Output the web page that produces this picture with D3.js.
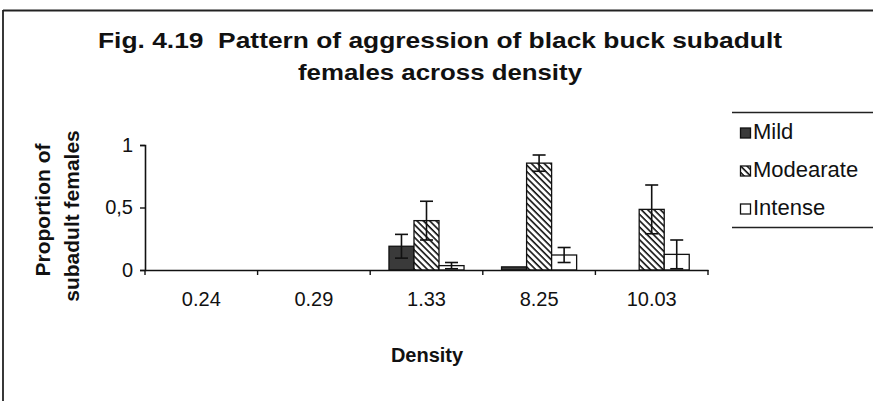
<!DOCTYPE html>
<html>
<head>
<meta charset="utf-8">
<script src="https://cdn.jsdelivr.net/npm/d3@7"></script>
<style>
  html, body { margin: 0; padding: 0; background: #fff; }
  svg { display: block; font-family: Arial, "Liberation Sans", sans-serif; }
  text { white-space: pre; }
</style>
</head>
<body>
<svg id="chart" width="873" height="401"></svg>
<script>
// Density categories and per-series proportions with standard errors
const densities = ["0.24", "0.29", "1.33", "8.25", "10.03"];
const seriesNames = ["Mild", "Modearate", "Intense"];
const mildValues      = [0, 0, 0.19, 0.025, 0];
const moderateValues  = [0, 0, 0.395, 0.855, 0.485];
const intenseValues   = [0, 0, 0.035, 0.12, 0.125];
const mildErrors      = [0, 0, 0.095, 0, 0];
const moderateErrors  = [0, 0, 0.155, 0.065, 0.195];
const intenseErrors   = [0, 0, 0.025, 0.06, 0.115];
const yTicks = [0, 0.5, 1];
const yTickLabels = ["0", "0,5", "1"];

const seriesValues = [mildValues, moderateValues, intenseValues];
const seriesErrors = [mildErrors, moderateErrors, intenseErrors];

const svg = d3.select("#chart");

// pattern for the "Modearate" hatching (down-right diagonals)
const defs = svg.append("defs");
const pat = defs.append("pattern")
  .attr("id", "hatch")
  .attr("patternUnits", "userSpaceOnUse")
  .attr("width", 4.5).attr("height", 4.5)
  .attr("patternTransform", "rotate(45)");
pat.append("rect").attr("width", 4.5).attr("height", 4.5).attr("fill", "#fff");
pat.append("line").attr("x1", 0).attr("y1", 0).attr("x2", 4.5).attr("y2", 0)
  .attr("stroke", "#111").attr("stroke-width", 3.2);

const fills = ["#3a3a3a", "url(#hatch)", "#fff"];

// page frame (top and left edges)
svg.append("line").attr("x1", 3).attr("y1", 10.5).attr("x2", 873).attr("y2", 10.5)
  .attr("stroke", "#222").attr("stroke-width", 1.8);
svg.append("line").attr("x1", 3).attr("y1", 10).attr("x2", 3).attr("y2", 401)
  .attr("stroke", "#222").attr("stroke-width", 1.8);

// title
const title = svg.append("g").attr("font-weight", "bold").attr("font-size", 22)
  .attr("text-anchor", "middle").attr("fill", "#111");
title.append("text").attr("x", 440).attr("y", 48)
  .attr("textLength", 684).attr("lengthAdjust", "spacingAndGlyphs")
  .text("Fig. 4.19  Pattern of aggression of black buck subadult");
title.append("text").attr("x", 440).attr("y", 80)
  .attr("textLength", 284).attr("lengthAdjust", "spacingAndGlyphs")
  .text("females across density");

// scales
const plotLeft = 145, plotRight = 708, plotTop = 145, plotBottom = 270;
const x = d3.scaleBand().domain(densities).range([plotLeft, plotRight]).padding(0);
const groupGap = x.bandwidth() * 0.75 / 4.5;
const xs = d3.scaleBand().domain(seriesNames)
  .range([groupGap, x.bandwidth() - groupGap]).padding(0);
const y = d3.scaleLinear().domain([0, 1]).range([plotBottom, plotTop]);

// bars
const bars = svg.append("g");
seriesNames.forEach((name, si) => {
  const vals = seriesValues[si];
  bars.append("g").selectAll("rect")
    .data(densities.map((d, i) => ({ d, v: vals[i] })).filter(o => o.v > 0))
    .join("rect")
    .attr("x", o => x(o.d) + xs(name))
    .attr("y", o => y(o.v))
    .attr("width", xs.bandwidth())
    .attr("height", o => y(0) - y(o.v))
    .attr("fill", fills[si])
    .attr("stroke", "#111").attr("stroke-width", 1.3);
});

// symmetric error bars with caps
const capHalf = 6.5;
const err = svg.append("g").attr("stroke", "#111").attr("stroke-width", 1.6).attr("fill", "none");
seriesNames.forEach((name, si) => {
  densities.forEach((d, i) => {
    const v = seriesValues[si][i], e = seriesErrors[si][i];
    if (!(v > 0 && e > 0)) return;
    const cx = x(d) + xs(name) + xs.bandwidth() / 2;
    const hi = y(v + e), lo = y(Math.max(0, v - e));
    err.append("line").attr("x1", cx).attr("x2", cx).attr("y1", hi).attr("y2", lo);
    err.append("line").attr("x1", cx - capHalf).attr("x2", cx + capHalf).attr("y1", hi).attr("y2", hi);
    err.append("line").attr("x1", cx - capHalf).attr("x2", cx + capHalf).attr("y1", lo).attr("y2", lo);
  });
});

// y axis
const yAxis = d3.axisLeft(y).tickValues(yTicks).tickSize(5).tickPadding(7)
  .tickFormat((d, i) => yTickLabels[i]);
const gy = svg.append("g").attr("transform", `translate(${plotLeft},0)`).call(yAxis);
gy.select(".domain").attr("stroke", "#111").attr("stroke-width", 1.6);
gy.selectAll(".tick line").attr("stroke", "#111").attr("stroke-width", 1.4);
gy.selectAll(".tick text").attr("font-size", 20).attr("fill", "#111")
  .attr("font-family", "Arial, 'Liberation Sans', sans-serif");

// x axis: labels centred, ticks on category boundaries
const xAxis = d3.axisBottom(x).tickSize(0).tickPadding(22);
const gx = svg.append("g").attr("transform", `translate(0,${plotBottom})`).call(xAxis);
gx.select(".domain").attr("stroke", "#111").attr("stroke-width", 1.6);
gx.selectAll(".tick text").attr("font-size", 20).attr("fill", "#111")
  .attr("font-family", "Arial, 'Liberation Sans', sans-serif");
const bounds = densities.map(d => x(d)).concat([x.range()[1]]);
gx.append("g").selectAll("line").data(bounds).join("line")
  .attr("x1", d => d).attr("x2", d => d).attr("y1", 0).attr("y2", 5)
  .attr("stroke", "#111").attr("stroke-width", 1.4);

// axis titles
svg.append("text").attr("x", 427).attr("y", 362).attr("text-anchor", "middle")
  .attr("font-weight", "bold").attr("font-size", 20).attr("fill", "#111").text("Density");
const yt = svg.append("g").attr("font-weight", "bold").attr("font-size", 21)
  .attr("text-anchor", "middle").attr("fill", "#111");
yt.append("text").attr("transform", "translate(50,210) rotate(-90)").text("Proportion of");
yt.append("text").attr("transform", "translate(79,216) rotate(-90)").text("subadult females");

// legend
const lg = svg.append("g");
lg.append("line").attr("x1", 732).attr("x2", 873).attr("y1", 112.5).attr("y2", 112.5)
  .attr("stroke", "#222").attr("stroke-width", 1.6);
lg.append("line").attr("x1", 732).attr("x2", 873).attr("y1", 227.5).attr("y2", 227.5)
  .attr("stroke", "#222").attr("stroke-width", 1.6);
const items = lg.selectAll("g.item").data(seriesNames).join("g")
  .attr("class", "item")
  .attr("transform", (d, i) => `translate(740,${139 + i * 38})`);
items.append("rect").attr("x", 0.5).attr("y", -11).attr("width", 10).attr("height", 10)
  .attr("fill", (d, i) => fills[i]).attr("stroke", "#111").attr("stroke-width", 1.3);
items.append("text").attr("x", 13).attr("y", 0).attr("font-size", 22).attr("fill", "#111")
  .text(d => d);
</script>
</body>
</html>
